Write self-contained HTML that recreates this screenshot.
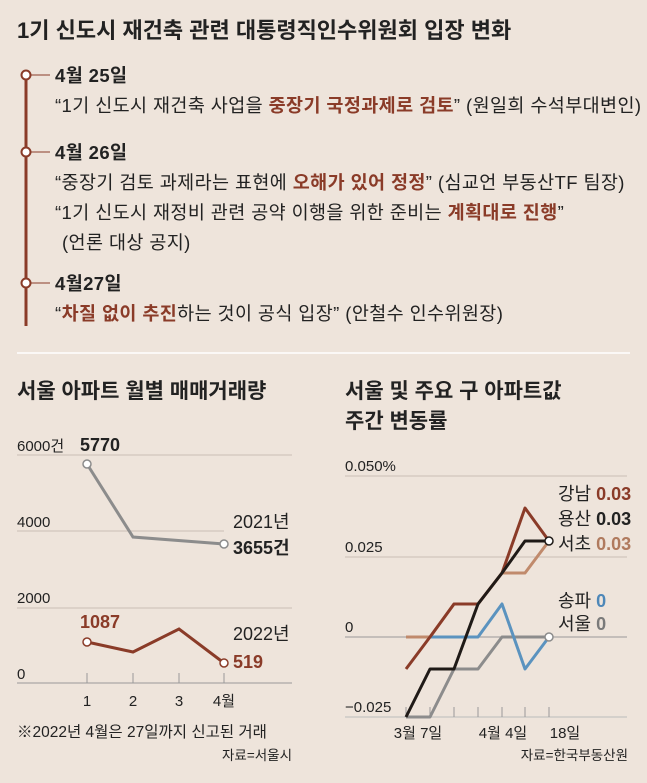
<!DOCTYPE html><html><head><meta charset="utf-8"><style>
body{margin:0;background:#eee4db;}
svg{display:block}
text{font-family:"Liberation Sans","Noto Sans CJK KR",sans-serif;fill:#222}
.b{font-weight:bold}
.r{fill:#8a3b28;font-weight:bold}
</style></head><body>
<svg width="647" height="783" viewBox="0 0 647 783">
<rect width="647" height="783" fill="#eee4db"/>
<text x="17" y="38" font-size="22" class="b">1기 신도시 재건축 관련 대통령직인수위원회 입장 변화</text>
<line x1="26" y1="75" x2="26" y2="326" stroke="#8a3b28" stroke-width="3"/>
<g stroke="#8a3b28" stroke-width="1"><line x1="26" y1="75" x2="50" y2="75"/><line x1="26" y1="152" x2="50" y2="152"/><line x1="26" y1="283" x2="50" y2="283"/></g>
<g fill="#fff" stroke="#8a3b28" stroke-width="2"><circle cx="26" cy="75" r="4.5"/><circle cx="26" cy="152" r="4.5"/><circle cx="26" cy="283" r="4.5"/></g>
<g font-size="18.5" letter-spacing="0.4">
<text x="55" y="82" class="b">4월 25일</text>
<text x="55" y="112">“1기 신도시 재건축 사업을 <tspan class="r">중장기 국정과제로 검토</tspan>” (원일희 수석부대변인)</text>
<text x="55" y="159" class="b">4월 26일</text>
<text x="55" y="189">“중장기 검토 과제라는 표현에 <tspan class="r">오해가 있어 정정</tspan>” (심교언 부동산TF 팀장)</text>
<text x="55" y="219">“1기 신도시 재정비 관련 공약 이행을 위한 준비는 <tspan class="r">계획대로 진행</tspan>”</text>
<text x="62" y="249">(언론 대상 공지)</text>
<text x="55" y="290" class="b">4월27일</text>
<text x="55" y="320">“<tspan class="r">차질 없이 추진</tspan>하는 것이 공식 입장” (안철수 인수위원장)</text>
</g>
<line x1="17" y1="353" x2="630" y2="353" stroke="#fff" stroke-width="1.5"/>
<text x="17" y="398" font-size="21" class="b">서울 아파트 월별 매매거래량</text>
<text x="345" y="398" font-size="21" class="b">서울 및 주요 구 아파트값</text>
<text x="345" y="428" font-size="21" class="b">주간 변동률</text>
<!-- left chart -->
<g stroke="#c9beb4" stroke-width="1"><line x1="17" y1="455" x2="292" y2="455"/><line x1="17" y1="531" x2="224" y2="531"/><line x1="17" y1="608" x2="292" y2="608"/></g>
<line x1="17" y1="683" x2="292" y2="683" stroke="#999" stroke-width="1"/>
<g stroke="#999"><line x1="87" y1="673" x2="87" y2="683"/><line x1="133" y1="673" x2="133" y2="683"/><line x1="179" y1="673" x2="179" y2="683"/><line x1="224" y1="673" x2="224" y2="683"/></g>
<g font-size="15"><text x="17" y="451">6000건</text><text x="17" y="527">4000</text><text x="17" y="603">2000</text><text x="17" y="679">0</text>
<text x="87" y="706" text-anchor="middle">1</text><text x="133" y="706" text-anchor="middle">2</text><text x="179" y="706" text-anchor="middle">3</text><text x="224" y="706" text-anchor="middle">4월</text>
<text x="233" y="528" font-size="18">2021년</text><text x="233" y="640" font-size="18">2022년</text></g>
<polyline points="87,464 133,537 224,544" fill="none" stroke="#8c8c8c" stroke-width="3"/>
<polyline points="87,642 133,652 179,629 224,663" fill="none" stroke="#8a3b28" stroke-width="3"/>
<g fill="#fff" stroke-width="1.5"><circle cx="87" cy="464" r="4" stroke="#8c8c8c"/><circle cx="224" cy="544" r="4" stroke="#8c8c8c"/><circle cx="87" cy="642" r="4" stroke="#8a3b28"/><circle cx="224" cy="663" r="4" stroke="#8a3b28"/></g>
<text x="80" y="451" font-size="18" class="b">5770</text>
<text x="233" y="554" font-size="18" class="b">3655건</text>
<text x="80" y="628" font-size="18" class="r">1087</text>
<text x="233" y="668" font-size="18" class="r">519</text>
<text x="17" y="737" font-size="15.5">※2022년 4월은 27일까지 신고된 거래</text>
<text x="292" y="760" font-size="13.5" text-anchor="end">자료=서울시</text>
<!-- right chart -->
<g stroke="#c9beb4"><line x1="345" y1="476" x2="627" y2="476"/><line x1="345" y1="557" x2="627" y2="557"/></g>
<line x1="345" y1="637" x2="627" y2="637" stroke="#999"/>
<line x1="345" y1="717" x2="627" y2="717" stroke="#bbb"/>
<g stroke="#999"><line x1="406" y1="707" x2="406" y2="717"/><line x1="430" y1="707" x2="430" y2="717"/><line x1="454" y1="707" x2="454" y2="717"/><line x1="478" y1="707" x2="478" y2="717"/><line x1="502" y1="707" x2="502" y2="717"/><line x1="525" y1="707" x2="525" y2="717"/><line x1="549" y1="707" x2="549" y2="717"/></g>
<g font-size="15"><text x="345" y="471">0.050%</text><text x="345" y="552">0.025</text><text x="345" y="632">0</text><text x="345" y="712">−0.025</text>
<text x="418" y="738" text-anchor="middle">3월 7일</text><text x="503" y="738" text-anchor="middle">4월 4일</text><text x="565" y="738" text-anchor="middle">18일</text></g>
<g fill="none" stroke-width="3" stroke-linejoin="round">
<polyline points="406,637 430,637 454,604 478,604 502,573 525,573 549,541" stroke="#c08a6c"/>
<polyline points="406,717 430,717 454,669 478,669 502,637 525,637 549,637" stroke="#8c8c8c"/>
<polyline points="430,637 478,637 502,604 525,669 549,637" stroke="#5b93bf"/>
<polyline points="406,669 430,637 454,604 478,604 502,573 525,508 549,541" stroke="#8a3b28"/>
<polyline points="406,717 430,669 454,669 478,604 502,573 525,541 549,541" stroke="#1f1a17"/>
</g>
<circle cx="549" cy="541" r="4" fill="#fff" stroke="#1f1a17" stroke-width="1.5"/>
<circle cx="549" cy="637" r="4" fill="#fff" stroke="#8c8c8c" stroke-width="1.5"/>
<g font-size="18"><text x="558" y="500">강남 <tspan class="r">0.03</tspan></text>
<text x="558" y="525">용산 <tspan class="b">0.03</tspan></text>
<text x="558" y="550">서초 <tspan style="fill:#b07a5e;font-weight:bold">0.03</tspan></text>
<text x="558" y="607">송파 <tspan style="fill:#4d87b8;font-weight:bold">0</tspan></text>
<text x="558" y="630">서울 <tspan style="fill:#7a7a7a;font-weight:bold">0</tspan></text></g>
<text x="628" y="760" font-size="13.5" text-anchor="end">자료=한국부동산원</text>
</svg></body></html>
